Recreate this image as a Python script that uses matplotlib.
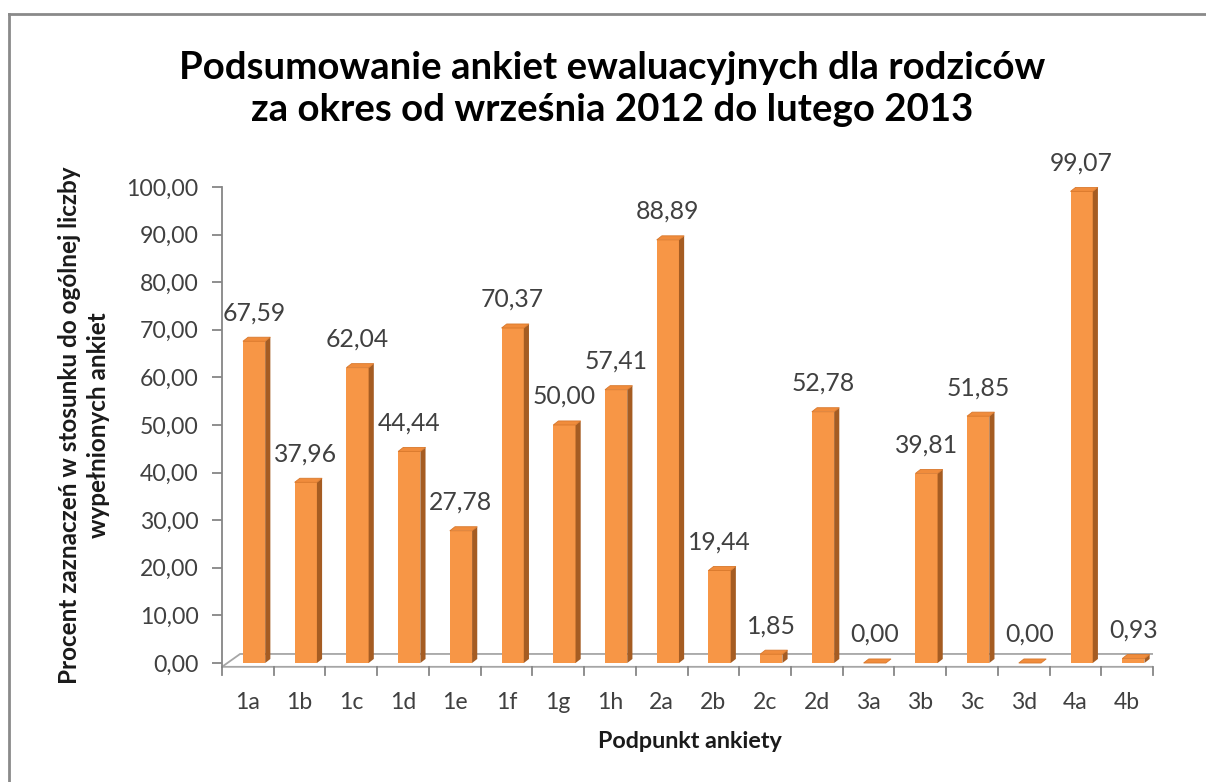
import numpy as np
import matplotlib.pyplot as plt
from matplotlib.patches import Polygon
from matplotlib.lines import Line2D

plt.rcParams['font.family'] = ['Lato', 'DejaVu Sans']

kategorie = ['1a', '1b', '1c', '1d', '1e', '1f', '1g', '1h', '2a', '2b',
             '2c', '2d', '3a', '3b', '3c', '3d', '4a', '4b']
wartosci = [67.59, 37.96, 62.04, 44.44, 27.78, 70.37, 50.00, 57.41, 88.89, 19.44,
            1.85, 52.78, 0.00, 39.81, 51.85, 0.00, 99.07, 0.93]
yticks = [0, 10, 20, 30, 40, 50, 60, 70, 80, 90, 100]

front = '#F79646'
side = '#A55C22'
top = '#F08C3C'
szary = '#868686'
tekst = '#404040'

W, H = 1206, 782
fig = plt.figure(figsize=(W / 100, H / 100), dpi=100)
# ramka wykresu (tylko lewa i gorna krawedz widoczna)
fig.lines.append(Line2D([9 / W, 9 / W], [0, 1 - 14 / H], transform=fig.transFigure,
                        color='#8a8a8a', linewidth=2))
fig.lines.append(Line2D([9 / W, 1], [1 - 14 / H, 1 - 14 / H], transform=fig.transFigure,
                        color='#8a8a8a', linewidth=2))

ax = fig.add_axes([222 / W, 0.1339, (1153 - 222) / W, 0.627])
ax.set_xlim(0, len(kategorie))
ax.set_ylim(-3, 100)

# podloga (floor) 3D
fy0, fy1 = -0.8, 1.9
fdx = 0.35
n = len(kategorie)
ax.add_patch(Polygon([(0, fy0), (n, fy0), (n + fdx, fy1), (fdx, fy1)], closed=True,
                     facecolor='white', edgecolor='#a6a6a6', linewidth=1.3, zorder=1))

# slupki 3D
x = np.arange(n) + 0.5
off = 0.12
bw = 0.43
dx, dy = 0.1, 0.85
ax.bar(x + off, wartosci, width=bw, color=front, zorder=3)
for xi, v in zip(x, wartosci):
    xl = xi + off - bw / 2
    xr = xi + off + bw / 2
    ax.add_patch(Polygon([(xr, 0), (xr + dx, dy), (xr + dx, v + dy), (xr, v)],
                         closed=True, facecolor=side, edgecolor='none', zorder=3))
    ax.add_patch(Polygon([(xl, v), (xr, v), (xr + dx, v + dy), (xl + dx, v + dy)],
                         closed=True, facecolor=top, edgecolor='#d8782c', linewidth=0.6, zorder=4))
    ax.text(xi + off, v + 6, f'{v:.2f}'.replace('.', ','), ha='center', va='center',
            fontsize=17.8, color=tekst, clip_on=False)

# osie
for s in ['top', 'right', 'bottom']:
    ax.spines[s].set_visible(False)
ax.spines['left'].set_bounds(fy0, 100)
ax.spines['left'].set_color(szary)
ax.spines['left'].set_linewidth(1.3)
ax.set_yticks(yticks)
ax.set_yticklabels([f'{t:.2f}'.replace('.', ',') for t in yticks])
ax.tick_params(axis='y', length=7, width=1.3, color=szary, labelsize=16.6, labelcolor=tekst, pad=10)
ax.set_xticks([])

for i in range(n + 1):
    ax.plot([i, i], [fy0, fy0 - 1.8], color=szary, linewidth=1.3, clip_on=False, zorder=2)
for xi, k in zip(x, kategorie):
    ax.text(xi, -8.4, k, ha='center', va='center', fontsize=16.6, color=tekst, clip_on=False)

fig.text(612 / W, 1 - 89 / H,
         'Podsumowanie ankiet ewaluacyjnych dla rodziców\nza okres od września 2012 do lutego 2013',
         ha='center', va='center', fontsize=27.6, fontweight='bold', linespacing=1.26)
fig.text(690 / W, 1 - 742 / H, 'Podpunkt ankiety', ha='center', va='center',
         fontsize=16.8, fontweight='bold', color='#1a1a1a')
fig.text(84 / W, 1 - 425 / H,
         'Procent zaznaczeń w stosunku do ogólnej liczby\nwypełnionych ankiet',
         ha='center', va='center', rotation=90, fontsize=17.5, fontweight='bold',
         color='#1a1a1a', linespacing=1.3)

fig.savefig('out.png', dpi=100)
